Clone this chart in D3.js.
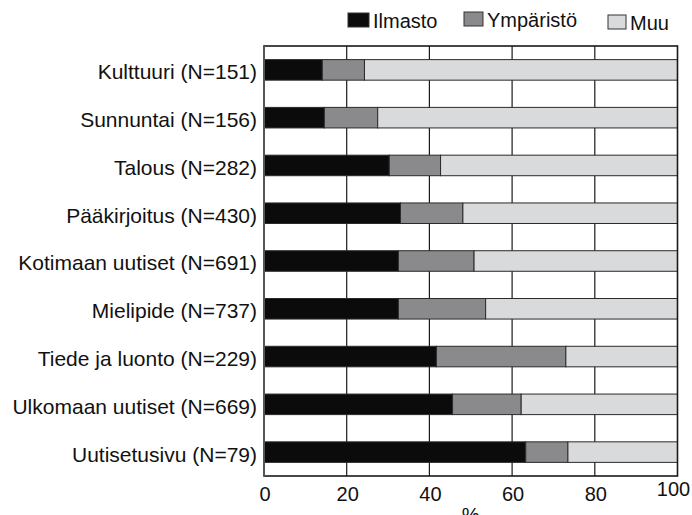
<!DOCTYPE html>
<html>
<head>
<meta charset="utf-8">
<script src="https://cdn.jsdelivr.net/npm/d3@7"></script>
<style>
  body { margin: 0; background: #fff; }
  svg { display: block; font-family: "Liberation Sans", Arial, Helvetica, sans-serif; }
</style>
</head>
<body>
<div id="chart"></div>
<script>
// Categories, top to bottom
const categories = [
  "Kulttuuri (N=151)",
  "Sunnuntai (N=156)",
  "Talous (N=282)",
  "Pääkirjoitus (N=430)",
  "Kotimaan uutiset (N=691)",
  "Mielipide (N=737)",
  "Tiede ja luonto (N=229)",
  "Ulkomaan uutiset (N=669)",
  "Uutisetusivu (N=79)"
];

// Shares in percent
const ilmasto   = [14.1, 14.6, 30.3, 33.0, 32.5, 32.5, 41.7, 45.6, 63.3];
const ymparisto = [10.2, 12.9, 12.4, 15.1, 18.3, 21.1, 31.3, 16.6, 10.2];

const seriesNames = ["Ilmasto", "Ympäristö", "Muu"];
const seriesColors = ["#0b0b0b", "#8a8a8c", "#d9dadc"];
const xTicks = [0, 20, 40, 60, 80, 100];

const width = 692;
const height = 515;
const margin = { top: 46, right: 15, bottom: 39, left: 264 };

// build rows for the stack, Muu is the remainder to 100
const rows = categories.map((c, i) => ({
  cat: c,
  "Ilmasto": ilmasto[i],
  "Ympäristö": ymparisto[i],
  "Muu": 100 - ilmasto[i] - ymparisto[i]
}));

const svg = d3.select("#chart")
  .append("svg")
  .attr("width", width)
  .attr("height", height);

const x = d3.scaleLinear()
  .domain([0, 100])
  .range([margin.left, width - margin.right + 0.5]);

const y = d3.scaleBand()
  .domain(categories)
  .range([margin.top, height - margin.bottom])
  .paddingInner(0.57)
  .paddingOuter(0.285);

const color = d3.scaleOrdinal().domain(seriesNames).range(seriesColors);

const plotBottom = height - margin.bottom;

// vertical gridlines
svg.append("g")
  .selectAll("line")
  .data(xTicks.slice(1, -1))
  .enter()
  .append("line")
  .attr("x1", d => x(d))
  .attr("x2", d => x(d))
  .attr("y1", margin.top)
  .attr("y2", plotBottom)
  .attr("stroke", "#1a1a1a")
  .attr("stroke-width", 1.2);

// stacked bars
const stacked = d3.stack().keys(seriesNames)(rows);

svg.append("g")
  .selectAll("g")
  .data(stacked)
  .enter()
  .append("g")
  .attr("fill", d => color(d.key))
  .selectAll("rect")
  .data(d => d)
  .enter()
  .append("rect")
  .attr("x", d => x(d[0]))
  .attr("y", d => y(d.data.cat))
  .attr("width", d => x(d[1]) - x(d[0]))
  .attr("height", y.bandwidth())
  .attr("stroke", "#2a2a2a")
  .attr("stroke-width", 1);

// frame
svg.append("rect")
  .attr("x", x(0))
  .attr("y", margin.top)
  .attr("width", x(100) - x(0))
  .attr("height", plotBottom - margin.top)
  .attr("fill", "none")
  .attr("stroke", "#1a1a1a")
  .attr("stroke-width", 1.6);

svg.append("line")
  .attr("x1", x(0)).attr("x2", x(0))
  .attr("y1", margin.top).attr("y2", plotBottom)
  .attr("stroke", "#555")
  .attr("stroke-width", 2);

// category labels
svg.append("g")
  .selectAll("text")
  .data(categories)
  .enter()
  .append("text")
  .attr("x", x(0) - 7)
  .attr("y", d => y(d) + y.bandwidth() / 2)
  .attr("dy", "0.45em")
  .attr("text-anchor", "end")
  .attr("font-size", "21px")
  .attr("fill", "#111")
  .text(d => d);

// x tick labels (the last one sits a little higher and inward, as in the original)
svg.append("g")
  .selectAll("text")
  .data(xTicks)
  .enter()
  .append("text")
  .attr("x", d => d === 100 ? x(d) - 4 : x(d) + 1)
  .attr("y", d => d === 100 ? plotBottom + 20 : plotBottom + 25)
  .attr("text-anchor", "middle")
  .attr("font-size", "20px")
  .attr("fill", "#111")
  .text(d => d);

// axis title, partly below the page edge like the original
svg.append("text")
  .attr("x", (x(0) + x(100)) / 2)
  .attr("y", plotBottom + 46)
  .attr("text-anchor", "middle")
  .attr("font-size", "20px")
  .attr("fill", "#111")
  .text("%");

// legend
const legendX = [348, 464, 608];
const legendY = [13, 12, 15];
const legendW = [21, 19, 18];

const legend = svg.append("g")
  .selectAll("g")
  .data(seriesNames)
  .enter()
  .append("g")
  .attr("transform", (d, i) => `translate(${legendX[i]},${legendY[i]})`);

legend.append("rect")
  .attr("width", (d, i) => legendW[i])
  .attr("height", 14)
  .attr("fill", d => color(d))
  .attr("stroke", "#333")
  .attr("stroke-width", 1);

legend.append("text")
  .attr("x", (d, i) => legendW[i] + 4)
  .attr("y", 14.5)
  .attr("font-size", "20px")
  .attr("fill", "#111")
  .text(d => d);
</script>
</body>
</html>
